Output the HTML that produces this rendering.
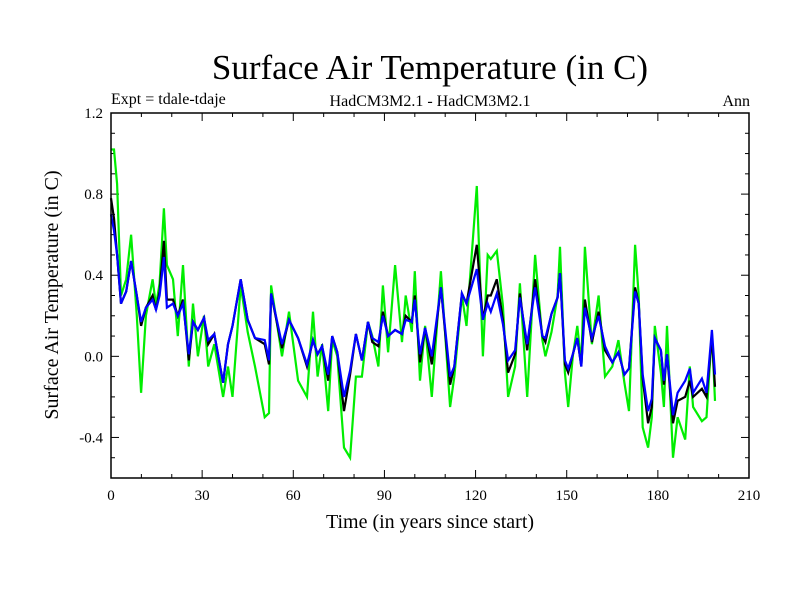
<!DOCTYPE html>
<html><head><meta charset="utf-8"><style>
body{margin:0;background:#fff;}
svg text{font-family:"Liberation Serif",serif;fill:#000;}
</style></head><body>
<svg id="c" width="800" height="600" xmlns="http://www.w3.org/2000/svg">
<text x="430" y="79" font-size="35" text-anchor="middle">Surface Air Temperature (in C)</text>
<text x="111" y="104" font-size="16">Expt = tdale-tdaje</text>
<text x="430" y="106" font-size="16" text-anchor="middle">HadCM3M2.1 - HadCM3M2.1</text>
<text x="750" y="106" font-size="16" text-anchor="end">Ann</text>
<text x="430" y="528" font-size="20" text-anchor="middle">Time (in years since start)</text>
<text transform="translate(58,295) rotate(-90)" font-size="20" text-anchor="middle">Surface Air Temperature (in C)</text>
<g id="axes"></g>
<g id="series"></g>
<rect x="111" y="113" width="638" height="365" fill="none" stroke="#000" stroke-width="1.5"/>
</svg>
<script>
const years=[0,1,2,3.3,5,6.6,8.5,9.9,11.5,13.7,14.8,16,17.4,18.4,20.4,22,23.7,25.6,27,28.6,30.6,32,34,36.9,38.5,40,42.7,45,47.4,50.6,52,52.7,56.3,58.6,61.6,64.5,66.5,68,69.5,71.5,72.8,74.5,76.7,78.7,80.6,82.6,84.6,86,88,89.5,91.2,93.5,95.8,97,99,100,101.7,103.4,105.6,108.6,111.6,113,115.5,117,120.4,122.4,124,125,127,129,130.7,133,134.6,137,139.6,142,143,145,147,147.8,149.4,150.5,152,153.5,154.8,156,158.3,160.5,162.6,165,167,169,170.5,172.5,173.7,175,176.8,178,179,181,182,183,185,186.5,189,190.5,191.6,194.5,196,197.8,198.8];
const blueValues=[0.70,0.62,0.50,0.26,0.32,0.47,0.30,0.17,0.24,0.28,0.23,0.30,0.49,0.24,0.26,0.20,0.26,0.01,0.17,0.13,0.19,0.08,0.11,-0.13,0.06,0.15,0.38,0.18,0.09,0.08,-0.02,0.31,0.06,0.18,0.09,-0.04,0.08,0.01,0.05,-0.09,0.10,0.02,-0.20,-0.07,0.11,-0.02,0.17,0.09,0.07,0.20,0.10,0.13,0.11,0.18,0.17,0.28,0.01,0.14,0.00,0.34,-0.10,-0.05,0.31,0.26,0.43,0.18,0.26,0.22,0.31,0.16,-0.02,0.03,0.29,0.06,0.34,0.10,0.09,0.21,0.29,0.41,-0.02,-0.06,0.01,0.09,-0.05,0.24,0.09,0.20,0.05,-0.03,0.02,-0.09,-0.06,0.32,0.26,-0.09,-0.27,-0.21,0.09,0.03,-0.12,0.01,-0.29,-0.18,-0.12,-0.06,-0.18,-0.11,-0.18,0.13,-0.09];
const blackValues=[0.78,0.68,0.50,0.26,0.32,0.47,0.30,0.15,0.24,0.30,0.23,0.32,0.57,0.28,0.28,0.20,0.28,-0.02,0.17,0.13,0.19,0.06,0.11,-0.13,0.06,0.15,0.38,0.18,0.09,0.06,-0.04,0.31,0.04,0.18,0.09,-0.05,0.08,0.01,0.05,-0.12,0.10,0.02,-0.27,-0.09,0.11,-0.02,0.17,0.07,0.05,0.22,0.10,0.13,0.11,0.20,0.17,0.30,-0.03,0.14,-0.04,0.34,-0.14,-0.05,0.31,0.26,0.55,0.18,0.30,0.30,0.38,0.18,-0.08,0.01,0.31,0.03,0.38,0.10,0.07,0.21,0.29,0.41,-0.04,-0.08,0.01,0.09,-0.05,0.28,0.07,0.22,0.03,-0.03,0.02,-0.09,-0.06,0.34,0.26,-0.11,-0.33,-0.25,0.09,0.03,-0.14,0.01,-0.33,-0.22,-0.20,-0.12,-0.20,-0.16,-0.20,0.10,-0.15];
const greenValues=[1.02,1.02,0.85,0.3,0.38,0.60,0.2,-0.18,0.2,0.38,0.25,0.36,0.73,0.45,0.38,0.1,0.45,-0.05,0.26,0.0,0.2,-0.05,0.06,-0.2,-0.05,-0.2,0.35,0.12,-0.05,-0.3,-0.28,0.35,0.0,0.22,-0.12,-0.2,0.22,-0.1,0.06,-0.27,0.08,0.0,-0.45,-0.5,-0.1,-0.1,0.17,0.1,-0.05,0.35,0.02,0.45,0.07,0.3,0.12,0.42,-0.12,0.15,-0.2,0.42,-0.25,-0.1,0.3,0.15,0.84,0.0,0.5,0.48,0.52,0.25,-0.2,-0.05,0.36,-0.2,0.5,0.08,0.0,0.12,0.3,0.54,-0.08,-0.25,0.0,0.15,-0.04,0.54,0.06,0.3,-0.1,-0.05,0.08,-0.13,-0.27,0.55,0.3,-0.35,-0.45,-0.3,0.15,-0.08,-0.25,0.15,-0.5,-0.3,-0.41,-0.05,-0.25,-0.32,-0.3,0.12,-0.22];
const xTickLabels=[0,30,60,90,120,150,180,210];
const yTickLabels=[1.2,0.8,0.4,0.0,-0.4];

const X0=111,X1=749,Y0=113,Y1=478,XMIN=0,XMAX=210,YMIN=-0.6,YMAX=1.2;
function xs(v){return X0+(v-XMIN)/(XMAX-XMIN)*(X1-X0);}
function ys(v){return Y1-(v-YMIN)/(YMAX-YMIN)*(Y1-Y0);}
const NS="http://www.w3.org/2000/svg";
const axes=document.getElementById('axes'),ser=document.getElementById('series');
function mk(tag,attrs,parent){const e=document.createElementNS(NS,tag);for(const k in attrs)e.setAttribute(k,attrs[k]);parent.appendChild(e);return e;}
for(let v=0;v<=210;v+=10){
  const major=v%30===0,L=major?8:4,x=xs(v);
  const t=mk('line',{x1:x,x2:x,y1:Y1,y2:Y1-L,stroke:'#000','stroke-width':1},axes);
  
  
  const t2=mk('line',{x1:x,x2:x,y1:Y0,y2:Y0+L,stroke:'#000','stroke-width':1},axes);
  
  
}
xTickLabels.forEach(v=>{
  const t=mk('text',{x:xs(v),y:Y1+22,'font-size':15,'text-anchor':'middle'},axes);t.textContent=v;
  
  
});
for(let i=0;i<=18;i++){
  const v=YMIN+i*0.1,major=i%4===2,L=major?8:4,y=ys(v);
  const t=mk('line',{x1:X0,x2:X0+L,y1:y,y2:y,stroke:'#000','stroke-width':1},axes);
  
  
  const t2=mk('line',{x1:X1,x2:X1-L,y1:y,y2:y,stroke:'#000','stroke-width':1},axes);
  
  
}
yTickLabels.forEach(v=>{
  const t=mk('text',{x:X0-8,y:ys(v)+5,'font-size':15,'text-anchor':'end'},axes);t.textContent=v.toFixed(1);
  
  
});
function line(vals,color,name){
  const d=vals.map((v,i)=>(i?'L':'M')+xs(years[i]).toFixed(1)+','+ys(v).toFixed(1)).join('');
  const p=mk('path',{d:d,fill:'none',stroke:color,'stroke-width':2.2,'stroke-linejoin':'miter'},ser);
  
  
}
line(greenValues,'#00ee00','green-series-line');
line(blackValues,'#000000','black-series-line');
line(blueValues,'#0000ff','blue-series-line');
</script>
</body></html>
